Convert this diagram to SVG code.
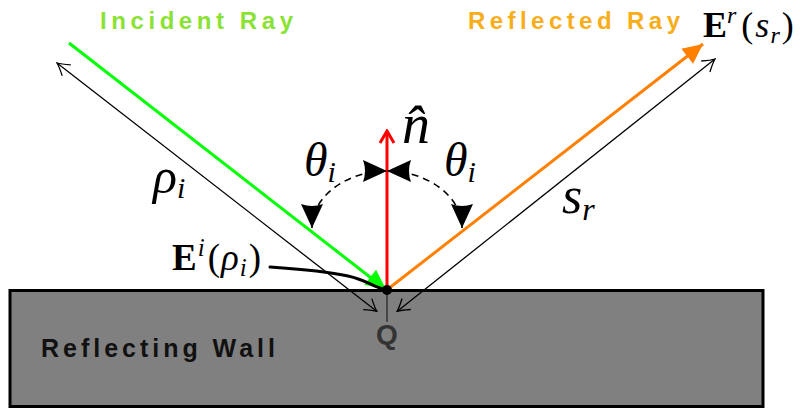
<svg xmlns="http://www.w3.org/2000/svg" width="805" height="412" viewBox="0 0 805 412">
<style>
.title{font-family:"Liberation Sans",Arial,sans-serif;font-weight:bold}
.math{font-family:"Liberation Serif","Times New Roman",serif;font-style:italic;fill:#000}
.bold{font-style:normal;font-weight:bold}
.up{font-style:normal}
.dim{fill:none;stroke:#000;stroke-width:1.3}
.arc{fill:none;stroke:#000;stroke-width:1.6;stroke-dasharray:7 5}
</style>
<defs>
<marker id="tri" viewBox="-26 -12 27 24" refX="0" refY="0" markerWidth="27" markerHeight="24" markerUnits="userSpaceOnUse" orient="auto-start-reverse">
<path d="M0,0 L-24,-11 Q-20,0 -24,11 Z" fill="#000"/>
</marker>
<marker id="openK" viewBox="-14 -9 15 18" refX="0" refY="0" markerWidth="15" markerHeight="18" markerUnits="userSpaceOnUse" orient="auto-start-reverse">
<path d="M-12,-7 Q-4,-1.5 0,0 Q-4,1.5 -12,7" fill="none" stroke="#000" stroke-width="1.3"/>
</marker>
<marker id="openR" viewBox="-15 -10 17 20" refX="0" refY="0" markerWidth="17" markerHeight="20" markerUnits="userSpaceOnUse" orient="auto">
<path d="M-12,-7 L0,0 L-12,7" fill="none" stroke="#FF0000" stroke-width="3"/>
</marker>
<marker id="headG" viewBox="-22 -11 23 22" refX="0" refY="0" markerWidth="23" markerHeight="22" markerUnits="userSpaceOnUse" orient="auto">
<path d="M0,0 L-20,-9.5 L-20,9.5 Z" fill="#00FF00"/>
</marker>
<marker id="headO" viewBox="-22 -11 23 22" refX="0" refY="0" markerWidth="23" markerHeight="22" markerUnits="userSpaceOnUse" orient="auto">
<path d="M0,0 L-20,-9.5 L-20,9.5 Z" fill="#FF8000"/>
</marker>
</defs>

<g id="wall">
<rect x="10" y="290.5" width="753" height="116" fill="#808080" stroke="#000" stroke-width="3"/>
<text x="41" y="357" class="title" style="font-size:25px" fill="#111" textLength="234" lengthAdjust="spacing">Reflecting Wall</text>
</g>

<g id="connectors">
<line x1="69" y1="43" x2="386" y2="289.5" stroke="#00FF00" stroke-width="3" marker-end="url(#headG)"/>
<line x1="388" y1="289" x2="703" y2="44" stroke="#FF8000" stroke-width="3" marker-end="url(#headO)"/>
<line x1="387" y1="290" x2="387" y2="131" stroke="#FF0000" stroke-width="3" marker-end="url(#openR)"/>
<line x1="57" y1="63" x2="377" y2="311.5" class="dim" marker-start="url(#openK)" marker-end="url(#openK)"/>
<line x1="397" y1="311.5" x2="715" y2="59" class="dim" marker-start="url(#openK)" marker-end="url(#openK)"/>
<line x1="387" y1="290" x2="387" y2="322" stroke="#333" stroke-width="1.5"/>
<path d="M312,228 C312,196 347,171 387,171" class="arc" marker-start="url(#tri)" marker-end="url(#tri)"/>
<path d="M462,228 C462,196 427,171 387,171" class="arc" marker-start="url(#tri)" marker-end="url(#tri)"/>
<path d="M270,267 C300,269 330,272 348,276 S372,286 383,289" fill="none" stroke="#000" stroke-width="3" stroke-linecap="round"/>
</g>

<g id="Q">
<circle cx="387" cy="290" r="5" fill="#000"/>
<text x="387" y="344" text-anchor="middle" font-family="'Liberation Sans',Arial,sans-serif" font-weight="bold" font-size="28" fill="#333">Q</text>
</g>

<g id="incident-label">
<text x="100" y="29" class="title" style="font-size:24px" fill="#8AE234" textLength="193" lengthAdjust="spacing">Incident Ray</text>
</g>
<g id="reflected-label">
<text x="468" y="29" class="title" style="font-size:24px" fill="#F8AE1A" textLength="212" lengthAdjust="spacing">Reflected Ray</text>
</g>

<g id="normal-label">
<text x="402" y="143" class="math" font-size="56" fill="#FF0000">n&#770;</text>
</g>
<g id="theta-left">
<text x="304" y="176" class="math" font-size="48">θ<tspan font-size="30" dy="6">i</tspan></text>
</g>
<g id="theta-right">
<text x="444" y="176" class="math" font-size="48">θ<tspan font-size="30" dy="6">i</tspan></text>
</g>
<g id="rho-label">
<text x="153" y="193" class="math" font-size="50">ρ<tspan font-size="30" dy="5">i</tspan></text>
</g>
<g id="sr-label">
<text x="562" y="213" class="math" font-size="52">s<tspan font-size="32" dy="7">r</tspan></text>
</g>
<g id="Er-label">
<text x="703" y="37" class="math" font-size="36"><tspan class="bold">E</tspan><tspan font-size="24" dy="-14">r</tspan><tspan class="up" dy="14" dx="5">(</tspan><tspan dx="2">s</tspan><tspan font-size="24" dy="6" dx="1">r</tspan><tspan class="up" dy="-6" dx="2">)</tspan></text>
</g>
<g id="Ei-label">
<text x="172" y="270" class="math" font-size="37"><tspan class="bold">E</tspan><tspan font-size="25" dy="-14" dx="1">i</tspan><tspan class="up" dy="14" dx="3">(</tspan><tspan dx="1">ρ</tspan><tspan font-size="25" dy="6" dx="1">i</tspan><tspan class="up" dy="-6" dx="2">)</tspan></text>
</g>
</svg>
